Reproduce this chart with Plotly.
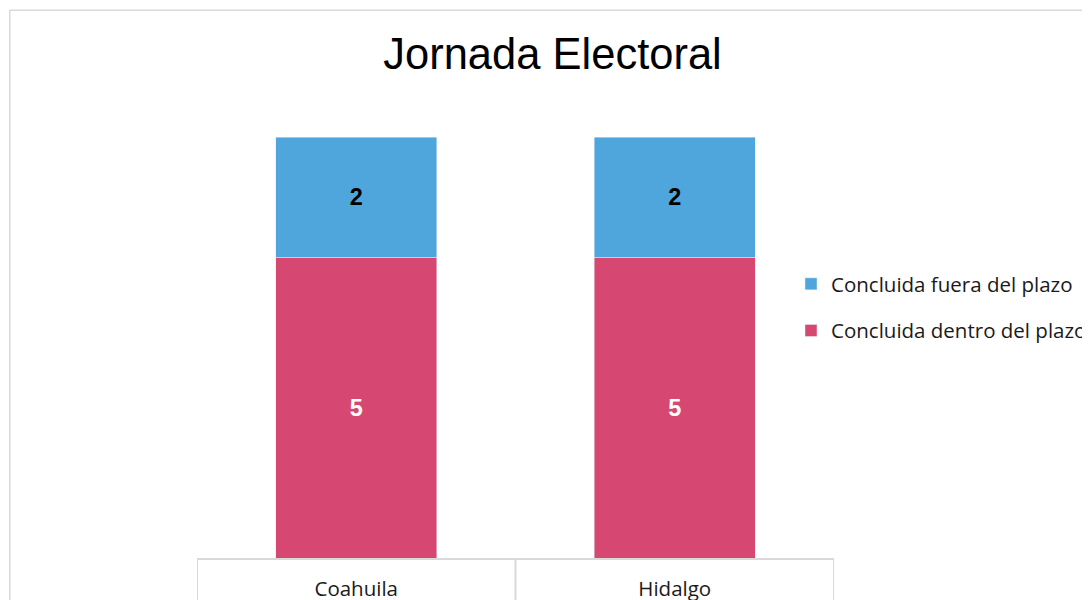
import plotly.graph_objects as go

categories = ["Coahuila", "Hidalgo"]
dentro = [5, 5]
fuera = [2, 2]
series_names = ["Concluida dentro del plazo", "Concluida fuera del plazo"]
title_text = "Jornada Electoral"

PINK = "#D64772"
BLUE = "#4FA6DC"
GRID = "#D9D9D9"

fig = go.Figure()
fig.add_trace(go.Bar(
    x=categories, y=dentro, name=series_names[0], marker_color=PINK,
    text=dentro, textposition="inside", insidetextanchor="middle",
    textfont=dict(family="Liberation Sans", size=23.5, color="white", weight="bold"),
    legendgroup="a", legendrank=2, hoverinfo="skip",
))
fig.add_trace(go.Bar(
    x=categories, y=fuera, name=series_names[1], marker_color=BLUE,
    text=fuera, textposition="inside", insidetextanchor="middle",
    textfont=dict(family="Liberation Sans", size=23.5, color="black", weight="bold"),
    legendgroup="b", legendrank=1, hoverinfo="skip",
))

shapes = []
# category separators below the axis
for xv in [-0.5, 0.5, 1.5]:
    shapes.append(dict(type="line", xref="x", yref="paper", x0=xv, x1=xv, y0=0, y1=-0.2,
                       line=dict(color=GRID, width=2)))
# chart border
shapes.append(dict(type="rect", xref="paper", yref="paper", x0=-0.294, x1=2, y0=-0.5, y1=1.139,
                   line=dict(color=GRID, width=1.5), layer="below"))

fig.update_layout(
    width=1090, height=600,
    margin=dict(l=189, r=263.5, t=69, b=50, autoexpand=False),
    paper_bgcolor="white", plot_bgcolor="white",
    barmode="stack", bargap=0.494,
    title=dict(text=title_text, x=544.5 / 1090, xref="container", xanchor="center",
               y=1 - 46 / 600, yref="container", yanchor="middle",
               font=dict(family="Liberation Sans", size=43.5, color="black")),
    xaxis=dict(showline=True, linecolor=GRID, linewidth=2, ticks="", showgrid=False,
               tickfont=dict(family="Open Sans", size=20.5, color="#1a1a1a"),
               range=[-0.5, 1.5], fixedrange=True, ticklabelstandoff=11),
    yaxis=dict(visible=False, range=[0, 8], showgrid=False, fixedrange=True),
    legend=dict(x=783 / 1090, xref="container", xanchor="left",
                y=1 - 299.5 / 600, yref="container", yanchor="middle",
                traceorder="grouped", tracegroupgap=17,
                font=dict(family="Open Sans", size=20.5, color="#1a1a1a"),
                bgcolor="rgba(0,0,0,0)"),
    shapes=shapes,
    showlegend=True,
)

fig.write_html("out.html")
